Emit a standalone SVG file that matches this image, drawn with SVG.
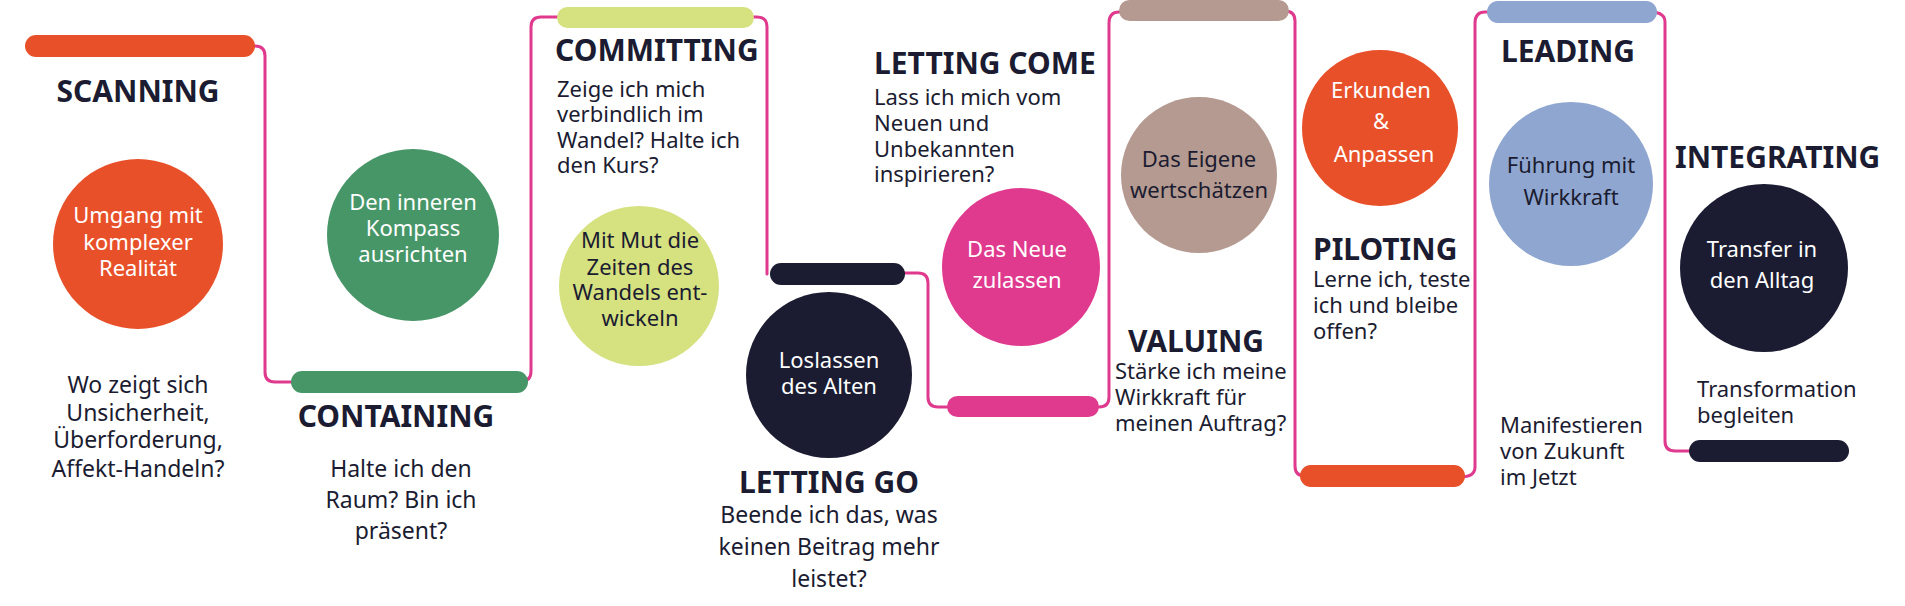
<svg xmlns="http://www.w3.org/2000/svg" width="1905" height="606" viewBox="0 0 1905 606">
<style>
.t{font-family:"Noto Sans","Open Sans",sans-serif;font-weight:700;font-size:30px;fill:#1b1c31}
.b{font-family:"Noto Sans","Open Sans",sans-serif;font-size:22px;fill:#1b1c31}
.q{font-family:"Noto Sans","Open Sans",sans-serif;font-size:23px;fill:#1b1c31}
.cw{font-family:"Noto Sans","Open Sans",sans-serif;font-size:22px;fill:#ffffff;text-anchor:middle}
.cd{font-family:"Noto Sans","Open Sans",sans-serif;font-size:22px;fill:#1b1c31;text-anchor:middle}
.m{text-anchor:middle}
.con{fill:none;stroke:#df3a8e;stroke-width:3;stroke-linecap:round}
</style>
<rect width="1905" height="606" fill="#ffffff"/>
<g id="connectors">
<path class="con" d="M250 46 H255 Q265 46 265 56 V372 Q265 382 275 382 H295"/>
<path class="con" d="M522 381 Q531 381 531 371 V27 Q531 17 541 17 H560"/>
<path class="con" d="M750 17 H757 Q767 17 767 27 V274"/>
<path class="con" d="M900 273 H918 Q928 273 928 283 V397 Q928 407 938 407 H950"/>
<path class="con" d="M1095 407 H1099 Q1109 407 1109 397 V23 Q1109 12 1119 12 H1125"/>
<path class="con" d="M1285 11 Q1295 11 1295 21 V466 Q1295 476 1305 476 H1320"/>
<path class="con" d="M1460 477 Q1475 477 1475 467 V23 Q1475 12 1485 12 H1495"/>
<path class="con" d="M1650 12 Q1665 12 1665 22 V441 Q1665 451 1675 451 H1695"/>
</g>
<g id="scanning">
<rect x="25" y="35" width="230" height="22" rx="11" fill="#e8502a"/>
<text class="t m" x="138" y="102">SCANNING</text>
<circle cx="138" cy="244" r="85" fill="#e8502a"/>
<text class="cw" x="138" y="223"><tspan x="138">Umgang mit</tspan><tspan x="138" dy="27">komplexer</tspan><tspan x="138" dy="26">Realität</tspan></text>
<text class="q m" x="138" y="393"><tspan x="138">Wo zeigt sich</tspan><tspan x="138" dy="28">Unsicherheit,</tspan><tspan x="138" dy="27">Überforderung,</tspan><tspan x="138" dy="29">Affekt-Handeln?</tspan></text>
</g>
<g id="containing">
<rect x="291" y="371" width="237" height="22" rx="11" fill="#479668"/>
<circle cx="413" cy="235" r="86" fill="#479668"/>
<text class="cw" x="413" y="210"><tspan x="413">Den inneren</tspan><tspan x="413" dy="26">Kompass</tspan><tspan x="413" dy="26">ausrichten</tspan></text>
<text class="t m" x="396" y="427">CONTAINING</text>
<text class="q m" x="401" y="477"><tspan x="401">Halte ich den</tspan><tspan x="401" dy="31">Raum? Bin ich</tspan><tspan x="401" dy="31">präsent?</tspan></text>
</g>
<g id="committing">
<rect x="557" y="7" width="197" height="21" rx="10.5" fill="#d6e180"/>
<text class="t" x="555" y="61">COMMITTING</text>
<text class="b" x="557" y="97"><tspan x="557">Zeige ich mich</tspan><tspan x="557" dy="25">verbindlich im</tspan><tspan x="557" dy="26">Wandel? Halte ich</tspan><tspan x="557" dy="25">den Kurs?</tspan></text>
<circle cx="639" cy="286" r="80" fill="#d6e180"/>
<text class="cd" x="640" y="248"><tspan x="640">Mit Mut die</tspan><tspan x="640" dy="27">Zeiten des</tspan><tspan x="640" dy="25">Wandels ent-</tspan><tspan x="640" dy="26">wickeln</tspan></text>
</g>
<g id="letting-go">
<rect x="770" y="263" width="135" height="22" rx="11" fill="#1b1c31"/>
<circle cx="829" cy="375" r="83" fill="#1b1c31"/>
<text class="cw" x="829" y="368"><tspan x="829">Loslassen</tspan><tspan x="829" dy="26">des Alten</tspan></text>
<text class="t m" x="829" y="493">LETTING GO</text>
<text class="q m" x="829" y="523"><tspan x="829">Beende ich das, was</tspan><tspan x="829" dy="32">keinen Beitrag mehr</tspan><tspan x="829" dy="32">leistet?</tspan></text>
</g>
<g id="letting-come">
<rect x="947" y="396" width="152" height="21" rx="10.5" fill="#df3a8e"/>
<text class="t" x="874" y="74">LETTING COME</text>
<text class="b" x="874" y="105"><tspan x="874">Lass ich mich vom</tspan><tspan x="874" dy="26">Neuen und</tspan><tspan x="874" dy="26">Unbekannten</tspan><tspan x="874" dy="25">inspirieren?</tspan></text>
<circle cx="1021" cy="267" r="79" fill="#df3a8e"/>
<text class="cw" x="1017" y="257"><tspan x="1017">Das Neue</tspan><tspan x="1017" dy="31">zulassen</tspan></text>
</g>
<g id="valuing">
<rect x="1119" y="0" width="170" height="21" rx="10.5" fill="#b49a90"/>
<circle cx="1199" cy="175" r="78" fill="#b49a90"/>
<text class="cd" x="1199" y="167"><tspan x="1199">Das Eigene</tspan><tspan x="1199" dy="31">wertschätzen</tspan></text>
<text class="t" x="1128" y="352">VALUING</text>
<text class="b" x="1115" y="379"><tspan x="1115">Stärke ich meine</tspan><tspan x="1115" dy="26">Wirkkraft für</tspan><tspan x="1115" dy="26">meinen Auftrag?</tspan></text>
</g>
<g id="piloting">
<rect x="1300" y="465" width="165" height="22" rx="11" fill="#e8502a"/>
<circle cx="1380" cy="128" r="78" fill="#e8502a"/>
<text class="cw" x="1381" y="98"><tspan x="1381">Erkunden</tspan><tspan x="1381" dy="31">&amp;</tspan><tspan x="1384" dy="33">Anpassen</tspan></text>
<text class="t" x="1313" y="260">PILOTING</text>
<text class="b" x="1313" y="287"><tspan x="1313">Lerne ich, teste</tspan><tspan x="1313" dy="26">ich und bleibe</tspan><tspan x="1313" dy="26">offen?</tspan></text>
</g>
<g id="leading">
<rect x="1487" y="1" width="170" height="22" rx="11" fill="#8fa7d0"/>
<text class="t" x="1501" y="62">LEADING</text>
<circle cx="1571" cy="184" r="82" fill="#8fa7d0"/>
<text class="cd" x="1571" y="173"><tspan x="1571">Führung mit</tspan><tspan x="1571" dy="32">Wirkkraft</tspan></text>
<text class="b" x="1500" y="433"><tspan x="1500">Manifestieren</tspan><tspan x="1500" dy="26">von Zukunft</tspan><tspan x="1500" dy="26">im Jetzt</tspan></text>
</g>
<g id="integrating">
<rect x="1689" y="440" width="160" height="22" rx="11" fill="#1b1c31"/>
<text class="t" x="1675" y="168">INTEGRATING</text>
<circle cx="1764" cy="268" r="84" fill="#1b1c31"/>
<text class="cw" x="1762" y="257"><tspan x="1762">Transfer in</tspan><tspan x="1762" dy="31">den Alltag</tspan></text>
<text class="b" x="1697" y="397"><tspan x="1697">Transformation</tspan><tspan x="1697" dy="26">begleiten</tspan></text>
</g>
</svg>
